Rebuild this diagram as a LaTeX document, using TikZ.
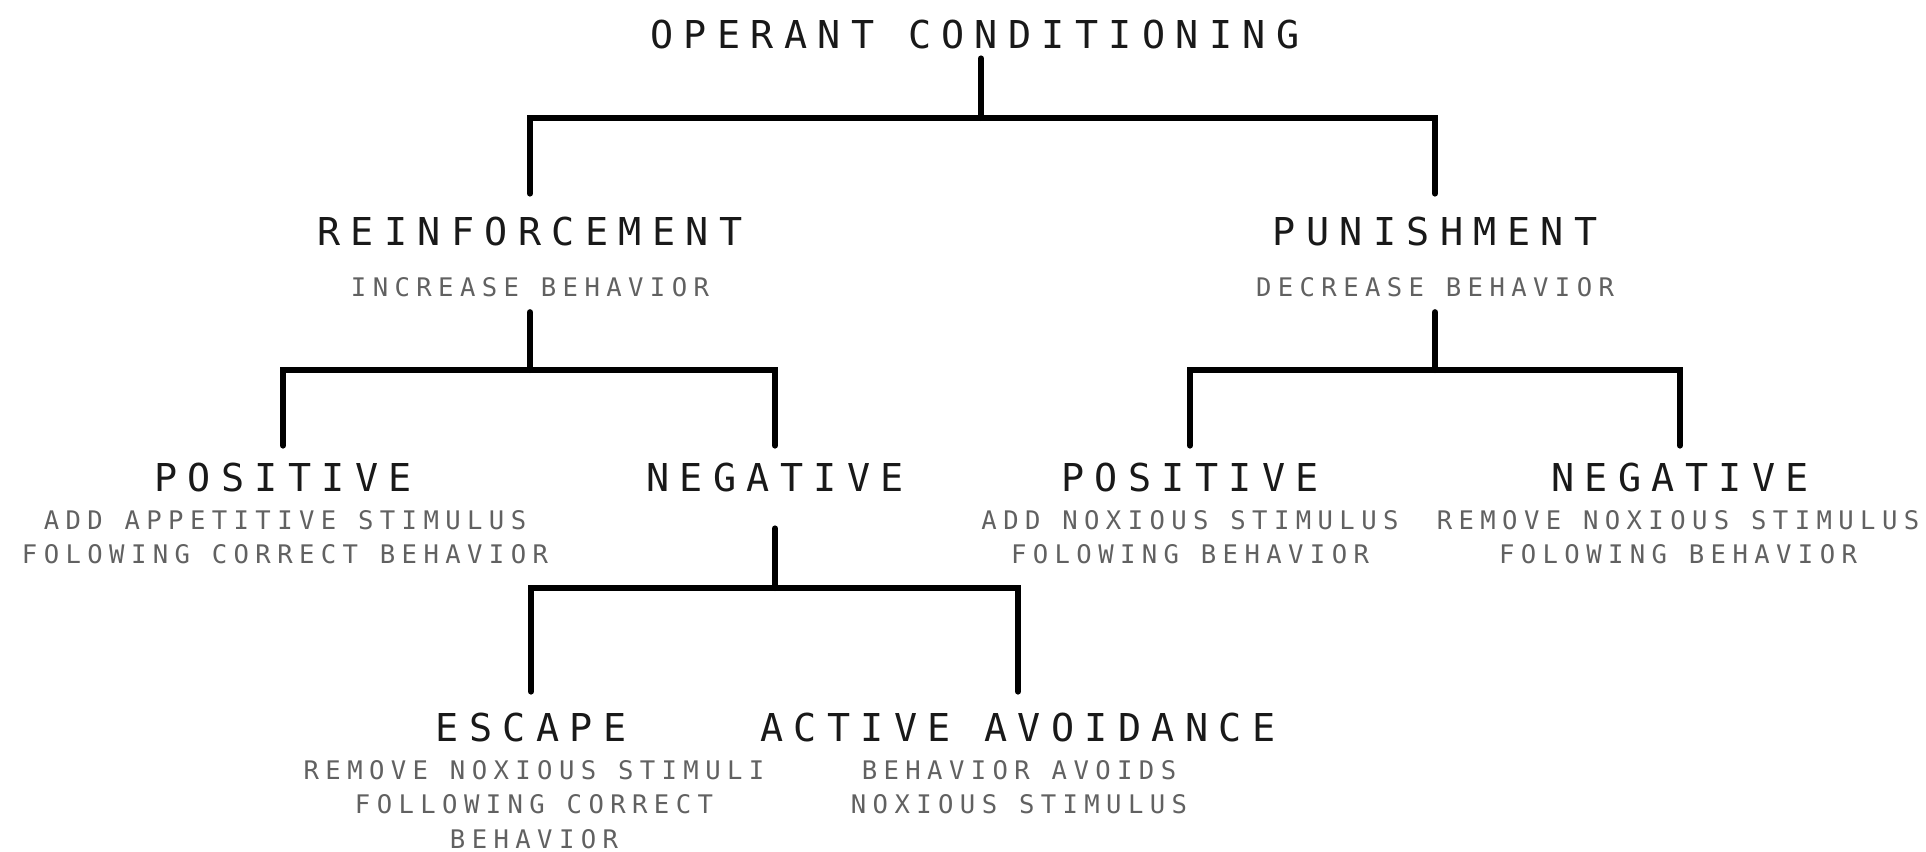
\documentclass[tikz,border=0pt]{standalone}
\usepackage{fontspec}
\usepackage{tikz}

\newfontfamily\headfont[LetterSpace=27]{DejaVu Sans Mono}
\newfontfamily\descfont[LetterSpace=25]{DejaVu Sans Mono}

\tikzset{
  head/.style={font=\headfont\fontsize{19.2}{23}\selectfont, text=black!90,
    inner sep=0pt, text height=14pt, text depth=0pt},
  desc/.style={font=\descfont\fontsize{12.8}{17.25}\selectfont, text=black!62,
    inner sep=0pt, align=center, anchor=north},
  branch/.style={line width=3pt, line cap=round}
}

\begin{document}
\begin{tikzpicture}[x=0.5pt,y=-0.5pt]
    \useasboundingbox (0,0) rectangle (1926,851);
    % Root
    \node[head] (oc) at (975,34.5) {OPERANT CONDITIONING};
    % Second level
    \node[head] (reinf) at (530,231.5) {REINFORCEMENT};
    \node[desc] (reinf-d) at (530,277) {INCREASE BEHAVIOR};
    \node[head] (pun) at (1435,231.5) {PUNISHMENT};
    \node[desc] (pun-d) at (1435,277) {DECREASE BEHAVIOR};
    % Third level
    \node[head] (posl) at (283,477.5) {POSITIVE};
    \node[desc] (posl-d) at (285,510) {ADD APPETITIVE STIMULUS\\FOLOWING CORRECT BEHAVIOR};
    \node[head] (negl) at (775,477.5) {NEGATIVE};
    \node[head] (posr) at (1190,477.5) {POSITIVE};
    \node[desc] (posr-d) at (1190,510) {ADD NOXIOUS STIMULUS\\FOLOWING BEHAVIOR};
    \node[head] (negr) at (1680,477.5) {NEGATIVE};
    \node[desc] (negr-d) at (1678,510) {REMOVE NOXIOUS STIMULUS\\FOLOWING BEHAVIOR};
    % Fourth level
    \node[head] (esc) at (531,727.5) {ESCAPE};
    \node[desc] (esc-d) at (534,760) {REMOVE NOXIOUS STIMULI\\FOLLOWING CORRECT\\BEHAVIOR};
    \node[head] (act) at (1018,727.5) {ACTIVE AVOIDANCE};
    \node[desc] (act-d) at (1019,760) {BEHAVIOR AVOIDS\\NOXIOUS STIMULUS};
    % Junctions
    \coordinate (oc-j) at (981,118);
    \coordinate (reinf-j) at (530,370);
    \coordinate (pun-j) at (1435,370);
    \coordinate (negl-j) at (775,588);
    % Branches
    \draw[branch, shorten <=4.75pt] (oc.south -| oc-j) -- (oc-j);
    \draw[branch, shorten <=11.75pt, shorten >=11.75pt] (reinf.north) |- (oc-j) -| (pun.north);
    \draw[branch, shorten <=7.5pt] (reinf-d.south) -- (reinf-j);
    \draw[branch, shorten <=8.75pt, shorten >=8.75pt] (posl.north) |- (reinf-j) -| (negl.north);
    \draw[branch, shorten <=7.5pt] (pun-d.south) -- (pun-j);
    \draw[branch, shorten <=8.75pt, shorten >=8.75pt] (posr.north) |- (pun-j) -| (negr.north);
    \draw[branch, shorten <=18.25pt] (negl.south) -- (negl-j);
    \draw[branch, shorten <=10.75pt, shorten >=10.75pt] (esc.north) |- (negl-j) -| (act.north);
\end{tikzpicture}
\end{document}
